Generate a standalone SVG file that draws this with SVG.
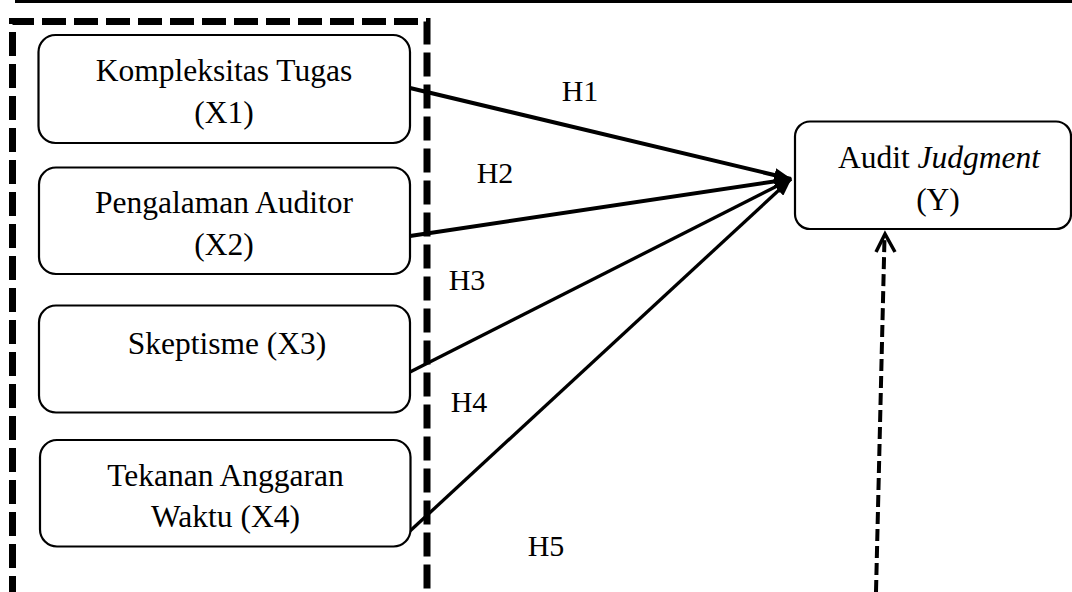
<svg xmlns="http://www.w3.org/2000/svg" width="1072" height="592" viewBox="0 0 1072 592">
  <style>
    .box { fill: #ffffff; stroke: #000000; stroke-width: 2.2; }
    text { font-family: 'Liberation Serif', 'Times New Roman', Times, 'DejaVu Serif', serif; fill: #000000; text-anchor: middle; }
    .t { font-size: 31.5px; }
    .h { font-size: 30px; }
    .conn { stroke: #000000; fill: none; }
  </style>
  <defs>
    <marker id="head" markerUnits="userSpaceOnUse" viewBox="0 0 18 14" refX="17" refY="7" markerWidth="18" markerHeight="14" orient="auto">
      <path d="M0,0 L18,7 L0,14 Z" fill="#000000"/>
    </marker>
  </defs>
  <rect x="0" y="0" width="1072" height="592" fill="#ffffff"/>
  <line x1="15" y1="1.5" x2="1072" y2="1.5" stroke="#000000" stroke-width="3"/>
  <g id="group-frame">
    <path d="M12.5,600 L12.5,21.5 L427,21.5 L427,600" fill="none" stroke="#000000" stroke-width="7" stroke-dasharray="24 8"/>
  </g>
  <g id="connectors">
    <line class="conn" x1="410" y1="88" x2="791" y2="179" stroke-width="4" marker-end="url(#head)"/>
    <line class="conn" x1="410" y1="236" x2="791" y2="179" stroke-width="4" marker-end="url(#head)"/>
    <line class="conn" x1="410" y1="372" x2="791" y2="179" stroke-width="3.3" marker-end="url(#head)"/>
    <line class="conn" x1="410" y1="531" x2="791" y2="179" stroke-width="3.3" marker-end="url(#head)"/>
    <line class="conn" x1="876" y1="592" x2="884.5" y2="238" stroke-width="4" stroke-dasharray="12 5"/>
    <polyline class="conn" points="876,252 885,234 895,252" stroke-width="3.5"/>
    <text class="h" x="580" y="101" font-family="Liberation Serif, serif">H1</text>
    <text class="h" x="495" y="183" font-family="Liberation Serif, serif">H2</text>
    <text class="h" x="467" y="290" font-family="Liberation Serif, serif">H3</text>
    <text class="h" x="469" y="412" font-family="Liberation Serif, serif">H4</text>
    <text class="h" x="546" y="556" font-family="Liberation Serif, serif">H5</text>
  </g>
  <g id="node-x1">
    <rect class="box" x="38.5" y="35" width="371.5" height="108" rx="17"/>
    <text class="t" x="224" y="81">Kompleksitas Tugas</text>
    <text class="t" x="224" y="123">(X1)</text>
  </g>
  <g id="node-x2">
    <rect class="box" x="39" y="167.5" width="371" height="106.5" rx="17"/>
    <text class="t" x="224" y="213">Pengalaman Auditor</text>
    <text class="t" x="224" y="255">(X2)</text>
  </g>
  <g id="node-x3">
    <rect class="box" x="39" y="305.5" width="371" height="107" rx="17"/>
    <text class="t" x="227" y="354">Skeptisme (X3)</text>
  </g>
  <g id="node-x4">
    <rect class="box" x="40" y="440" width="370.5" height="106.5" rx="17"/>
    <text class="t" x="225.5" y="486">Tekanan Anggaran</text>
    <text class="t" x="225.5" y="527">Waktu (X4)</text>
  </g>
  <g id="node-y">
    <rect class="box" x="795" y="121.5" width="276" height="107.5" rx="15"/>
    <text class="t" x="939" y="168">Audit <tspan font-style="italic">Judgment</tspan></text>
    <text class="t" x="938" y="210">(Y)</text>
  </g>
</svg>
